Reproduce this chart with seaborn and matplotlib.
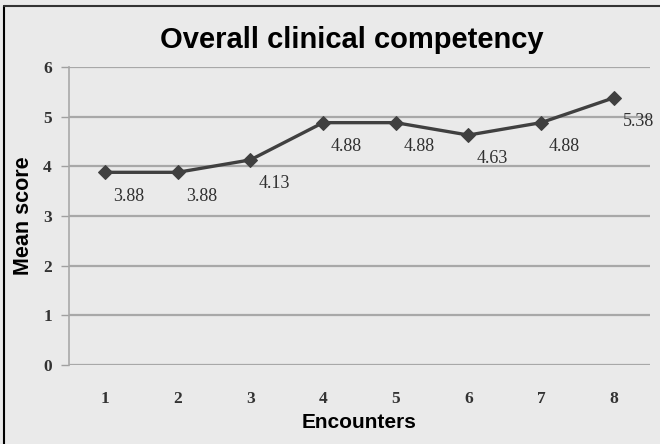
import matplotlib
matplotlib.use("Agg")
import matplotlib.pyplot as plt
import seaborn as sns
import pandas as pd
from matplotlib.lines import Line2D

encounters = ["1", "2", "3", "4", "5", "6", "7", "8"]
mean_scores = [3.88, 3.88, 4.13, 4.88, 4.88, 4.63, 4.88, 5.38]
score_labels = ["3.88", "3.88", "4.13", "4.88", "4.88", "4.63", "4.88", "5.38"]
y_ticks = [0, 1, 2, 3, 4, 5, 6]

sns.set_style("white")
bg = "#eaeaea"
fig = plt.figure(figsize=(6.6, 4.44), dpi=100, facecolor=bg)
ax = fig.add_axes([0.104, 0.178, 0.881, 0.671], facecolor=bg)

df = pd.DataFrame({"Encounter": encounters, "Score": mean_scores})
sns.lineplot(data=df, x="Encounter", y="Score", ax=ax, color="#404040",
             linewidth=2.4, marker="D", markersize=7.5, markeredgecolor="#404040",
             sort=False)

ax.set_xlim(-0.5, len(encounters) - 0.5)
ax.set_ylim(0, 6)
ax.set_yticks(y_ticks)
ax.set_yticklabels([str(t) for t in y_ticks], family="Liberation Serif",
                   fontsize=12.5, fontweight="bold", color="#333333")
ax.set_xticks(range(len(encounters)))
ax.set_xticklabels(encounters, family="Liberation Serif", fontsize=12.5,
                   fontweight="bold", color="#333333")
ax.tick_params(axis="y", length=6, width=1, color="#a0a0a0", pad=6, left=True)
ax.tick_params(axis="x", length=0, pad=19)
for t in y_ticks:
    ax.axhline(t, color="#a8a8a8", linewidth=1.6, zorder=0)
for s in ["top", "right", "bottom"]:
    ax.spines[s].set_visible(False)
ax.spines["left"].set_color("#a8a8a8")
ax.spines["left"].set_linewidth(1.2)

for i, (v, lab) in enumerate(zip(mean_scores, score_labels)):
    dx = 17 if i < 7 else 18
    ax.annotate(lab, (i, v), xytext=(dx, -11), textcoords="offset points",
                ha="center", va="top", family="Liberation Serif",
                fontsize=13, color="#303030")

ax.set_xlabel("Encounters", family="Liberation Sans", fontsize=15,
              fontweight="bold", color="black", labelpad=4)
ax.set_ylabel("Mean score", family="Liberation Sans", fontsize=15.5,
              fontweight="bold", color="black", labelpad=7)
fig.text(0.533, 0.91, "Overall clinical competency", ha="center", va="center",
         family="Liberation Sans", fontsize=21, fontweight="bold", color="black")

# figure border (top and left)
fig.add_artist(Line2D([0.006, 0.006], [0, 0.987], transform=fig.transFigure,
                      color="black", linewidth=1.5))
fig.add_artist(Line2D([0.006, 1.0], [0.987, 0.987], transform=fig.transFigure,
                      color="#333333", linewidth=1.5))

fig.savefig("out.png", dpi=100, facecolor=bg)
